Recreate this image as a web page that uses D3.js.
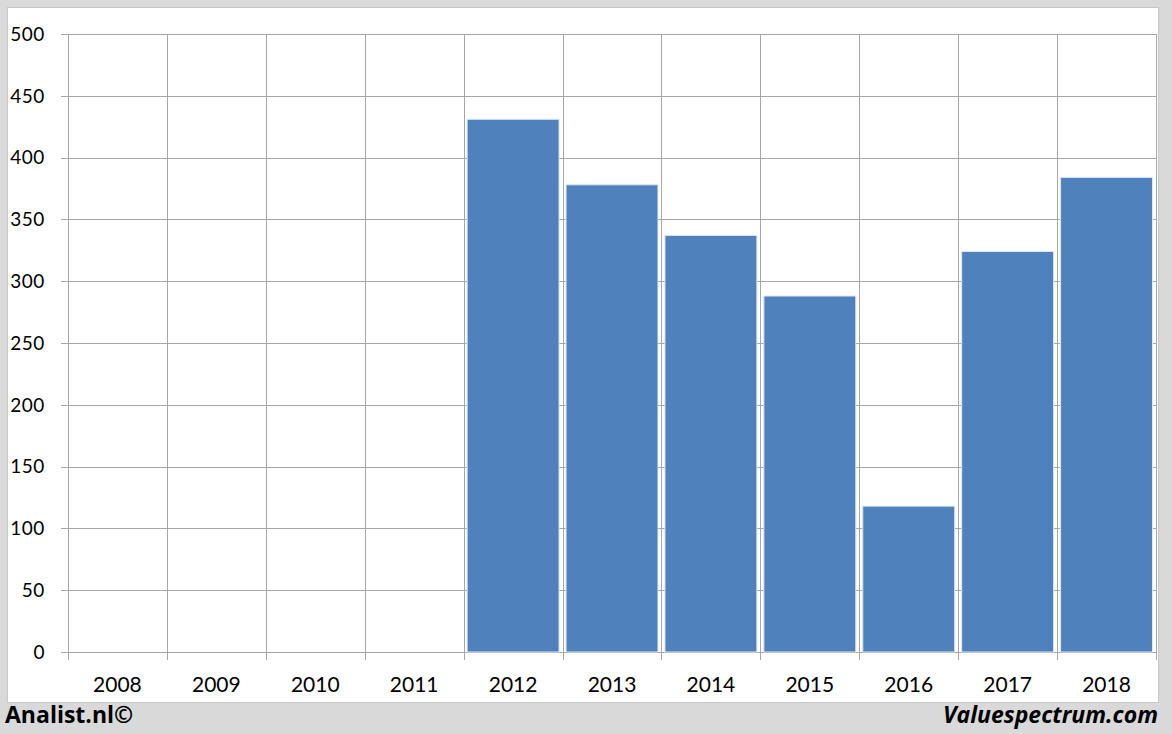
<!DOCTYPE html>
<html><head><meta charset="utf-8">
<script src="https://cdn.jsdelivr.net/npm/d3@7"></script>
<style>body{margin:0;background:#d9d9d9;} svg{display:block;}</style>
</head><body>
<svg id="c" width="1172" height="734"></svg>
<script>
const categories = ["2008","2009","2010","2011","2012","2013","2014","2015","2016","2017","2018"];
const values = [null,null,null,null,431,378,337,288,118,324,384];
const yTicks = [0,50,100,150,200,250,300,350,400,450,500];

const svg = d3.select("#c");
svg.append("rect").attr("x",0).attr("y",0).attr("width",1172).attr("height",734).attr("fill","#d9d9d9");
svg.append("rect").attr("x",7.5).attr("y",7.5).attr("width",1151).attr("height",695).attr("fill","#fff").attr("stroke","#c8c8c8");

const x = d3.scaleBand().domain(categories).range([68,1156]).paddingInner(0).paddingOuter(0);
const y = d3.scaleLinear().domain([0,500]).range([652,34]);
const font = "Lato, 'Open Sans', sans-serif";
const font2 = "'Open Sans', Lato, sans-serif";

// horizontal gridlines
svg.append("g").selectAll("line").data(yTicks).join("line")
  .attr("x1",61).attr("x2",1156).attr("y1",d=>Math.round(y(d))+0.5).attr("y2",d=>Math.round(y(d))+0.5)
  .attr("stroke","#a6a6a6").attr("stroke-width",1);
// vertical gridlines
const vx = categories.map(c=>x(c)).concat([x(categories[categories.length-1])+x.bandwidth()]);
svg.append("g").selectAll("line").data(vx).join("line")
  .attr("x1",d=>Math.round(d)+0.5).attr("x2",d=>Math.round(d)+0.5).attr("y1",34).attr("y2",660)
  .attr("stroke","#a6a6a6").attr("stroke-width",1);

// bars
const data = categories.map((c,i)=>({c, v: values[i]})).filter(d=>d.v!=null);
svg.append("g").selectAll("rect").data(data).join("rect")
  .attr("x",d=>x(d.c)+3.5).attr("width",x.bandwidth()-7)
  .attr("y",d=>y(d.v)).attr("height",d=>y(0)-y(d.v))
  .attr("fill","#4f81bd").attr("stroke","#dbe6f3").attr("stroke-width",1);

// y labels
svg.append("g").selectAll("text").data(yTicks).join("text")
  .attr("x",45).attr("y",d=>y(d)).attr("dy","0.36em").attr("text-anchor","end")
  .attr("font-family",font).attr("font-size",19).attr("letter-spacing",0.6).attr("fill","#000").text(d=>d);
// x labels
svg.append("g").selectAll("text").data(categories).join("text")
  .attr("x",d=>x(d)+x.bandwidth()/2).attr("y",692).attr("text-anchor","middle")
  .attr("font-family",font).attr("font-size",21).attr("fill","#000").text(d=>d);

svg.append("text").attr("x",5).attr("y",723).attr("font-family",font2).attr("font-weight","bold")
  .attr("font-size",23).attr("fill","#000").text("Analist.nl©");
svg.append("text").attr("x",1158).attr("y",723).attr("text-anchor","end").attr("font-family",font2)
  .attr("font-weight","bold").attr("font-style","italic").attr("font-size",23).attr("fill","#000").text("Valuespectrum.com");
</script>
</body></html>
